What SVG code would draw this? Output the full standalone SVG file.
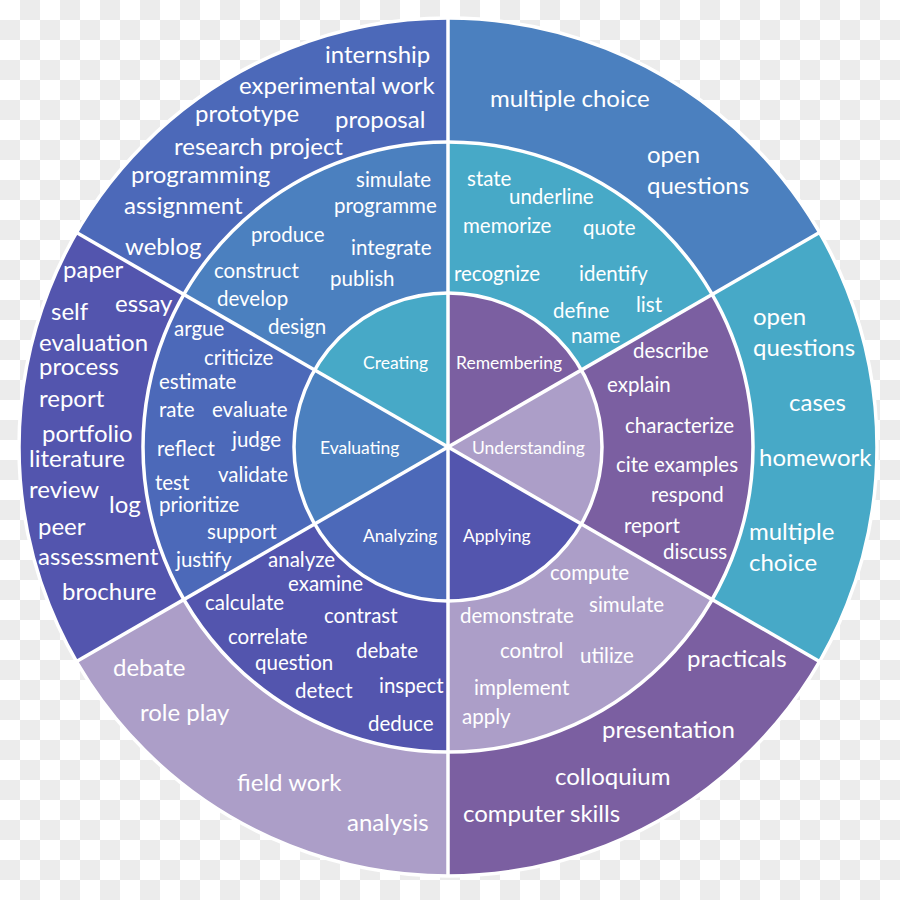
<svg xmlns="http://www.w3.org/2000/svg" width="900" height="900" viewBox="0 0 900 900">
<defs>
<pattern id="chk" x="0" y="0" width="40" height="40" patternUnits="userSpaceOnUse">
<rect x="0" y="0" width="40" height="40" fill="#ffffff"/>
<rect x="20" y="0" width="20" height="20" fill="#ececec"/>
<rect x="0" y="20" width="20" height="20" fill="#ececec"/>
</pattern>
<style>
text{fill:#ffffff;font-family:Lato,"Open Sans","Noto Sans",sans-serif}
.o{font-size:24px}
.m{font-size:20.5px}
.i{font-size:17.5px}
.teal{fill:#47a9c7}
.blue1{fill:#4b80bf}
.blue2{fill:#4c69b9}
.indigo{fill:#5355ae}
.lav{fill:#ac9ec8}
.purple{fill:#7b5fa1}
.div{stroke:#ffffff;stroke-width:3.5;fill:none}
</style>
</defs>
<rect width="900" height="900" fill="url(#chk)"/>

<!-- Outer ring -->
<g id="outer-creating">
<path class="blue2" d="M448 447 L448 18 A429 429 0 0 0 76.5 232.5 Z"/>
<text class="o" x="325" y="63">internship</text>
<text class="o" x="239" y="94">experimental work</text>
<text class="o" x="195" y="122">prototype</text>
<text class="o" x="335" y="128">proposal</text>
<text class="o" x="174" y="155">research project</text>
<text class="o" x="131" y="183">programming</text>
<text class="o" x="124" y="214">assignment</text>
<text class="o" x="125" y="255">weblog</text>
</g>
<g id="outer-remembering">
<path class="blue1" d="M448 447 L819.5 232.5 A429 429 0 0 0 448 18 Z"/>
<text class="o" x="490" y="107">multiple choice</text>
<text class="o" x="647" y="163">open</text>
<text class="o" x="647" y="194">questions</text>
</g>
<g id="outer-understanding">
<path class="teal" d="M448 447 L819.5 661.5 A429 429 0 0 0 819.5 232.5 Z"/>
<text class="o" x="753" y="325">open</text>
<text class="o" x="753" y="356">questions</text>
<text class="o" x="789" y="411">cases</text>
<text class="o" x="759" y="466">homework</text>
<text class="o" x="749" y="540">multiple</text>
<text class="o" x="749" y="571">choice</text>
</g>
<g id="outer-applying">
<path class="purple" d="M448 447 L448 876 A429 429 0 0 0 819.5 661.5 Z"/>
<text class="o" x="687" y="667">practicals</text>
<text class="o" x="602" y="738">presentation</text>
<text class="o" x="555" y="785">colloquium</text>
<text class="o" x="463" y="822">computer skills</text>
</g>
<g id="outer-analyzing">
<path class="lav" d="M448 447 L76.5 661.5 A429 429 0 0 0 448 876 Z"/>
<text class="o" x="113" y="676">debate</text>
<text class="o" x="140" y="721">role play</text>
<text class="o" x="237" y="791">field work</text>
<text class="o" x="347" y="831">analysis</text>
</g>
<g id="outer-evaluating">
<path class="indigo" d="M448 447 L76.5 232.5 A429 429 0 0 0 76.5 661.5 Z"/>
<text class="o" x="63" y="278">paper</text>
<text class="o" x="51" y="320">self</text>
<text class="o" x="115" y="312">essay</text>
<text class="o" x="39" y="351">evaluation</text>
<text class="o" x="39" y="375">process</text>
<text class="o" x="39" y="407">report</text>
<text class="o" x="42" y="442">portfolio</text>
<text class="o" x="29" y="467">literature</text>
<text class="o" x="29" y="498">review</text>
<text class="o" x="109" y="513">log</text>
<text class="o" x="38" y="535">peer</text>
<text class="o" x="38" y="565">assessment</text>
<text class="o" x="62" y="600">brochure</text>
</g>

<!-- Middle ring -->
<g id="middle-creating">
<path class="blue1" d="M448 447 L448 142 A305 305 0 0 0 183.9 294.5 Z"/>
<text class="m" x="356" y="187">simulate</text>
<text class="m" x="334" y="213">programme</text>
<text class="m" x="251" y="242">produce</text>
<text class="m" x="351" y="255">integrate</text>
<text class="m" x="214" y="278">construct</text>
<text class="m" x="330" y="286">publish</text>
<text class="m" x="217" y="306">develop</text>
<text class="m" x="268" y="334">design</text>
</g>
<g id="middle-remembering">
<path class="teal" d="M448 447 L712.1 294.5 A305 305 0 0 0 448 142 Z"/>
<text class="m" x="467" y="186">state</text>
<text class="m" x="509" y="204">underline</text>
<text class="m" x="463" y="233">memorize</text>
<text class="m" x="583" y="235">quote</text>
<text class="m" x="454" y="281">recognize</text>
<text class="m" x="579" y="281">identify</text>
<text class="m" x="636" y="312">list</text>
<text class="m" x="553" y="318">define</text>
<text class="m" x="571" y="343">name</text>
</g>
<g id="middle-understanding">
<path class="purple" d="M448 447 L712.1 599.5 A305 305 0 0 0 712.1 294.5 Z"/>
<text class="m" x="633" y="358">describe</text>
<text class="m" x="607" y="392">explain</text>
<text class="m" x="625" y="433">characterize</text>
<text class="m" x="616" y="472">cite examples</text>
<text class="m" x="651" y="502">respond</text>
<text class="m" x="624" y="533">report</text>
<text class="m" x="663" y="559">discuss</text>
</g>
<g id="middle-applying">
<path class="lav" d="M448 447 L448 752 A305 305 0 0 0 712.1 599.5 Z"/>
<text class="m" x="550" y="580">compute</text>
<text class="m" x="589" y="612">simulate</text>
<text class="m" x="460" y="623">demonstrate</text>
<text class="m" x="500" y="658">control</text>
<text class="m" x="580" y="663">utilize</text>
<text class="m" x="474" y="695">implement</text>
<text class="m" x="462" y="724">apply</text>
</g>
<g id="middle-analyzing">
<path class="indigo" d="M448 447 L183.9 599.5 A305 305 0 0 0 448 752 Z"/>
<text class="m" x="268" y="567">analyze</text>
<text class="m" x="288" y="591">examine</text>
<text class="m" x="205" y="610">calculate</text>
<text class="m" x="324" y="623">contrast</text>
<text class="m" x="228" y="644">correlate</text>
<text class="m" x="356" y="658">debate</text>
<text class="m" x="255" y="670">question</text>
<text class="m" x="379" y="693">inspect</text>
<text class="m" x="295" y="698">detect</text>
<text class="m" x="368" y="731">deduce</text>
</g>
<g id="middle-evaluating">
<path class="blue2" d="M448 447 L183.9 294.5 A305 305 0 0 0 183.9 599.5 Z"/>
<text class="m" x="174" y="336">argue</text>
<text class="m" x="204" y="365">criticize</text>
<text class="m" x="159" y="389">estimate</text>
<text class="m" x="159" y="417">rate</text>
<text class="m" x="212" y="417">evaluate</text>
<text class="m" x="232" y="447">judge</text>
<text class="m" x="157" y="456">reflect</text>
<text class="m" x="218" y="482">validate</text>
<text class="m" x="155" y="490">test</text>
<text class="m" x="159" y="512">prioritize</text>
<text class="m" x="207" y="539">support</text>
<text class="m" x="176" y="567">justify</text>
</g>

<!-- Inner ring -->
<g id="creating">
<path class="teal" d="M448 447 L448 293 A154 154 0 0 0 314.6 370 Z"/>
<text class="i" x="363" y="369">Creating</text>
</g>
<g id="remembering">
<path class="purple" d="M448 447 L581.4 370 A154 154 0 0 0 448 293 Z"/>
<text class="i" x="456" y="369">Remembering</text>
</g>
<g id="understanding">
<path class="lav" d="M448 447 L581.4 524 A154 154 0 0 0 581.4 370 Z"/>
<text class="i" x="472" y="454">Understanding</text>
</g>
<g id="applying">
<path class="indigo" d="M448 447 L448 601 A154 154 0 0 0 581.4 524 Z"/>
<text class="i" x="463" y="542">Applying</text>
</g>
<g id="analyzing">
<path class="blue2" d="M448 447 L314.6 524 A154 154 0 0 0 448 601 Z"/>
<text class="i" x="363" y="542">Analyzing</text>
</g>
<g id="evaluating">
<path class="blue1" d="M448 447 L314.6 370 A154 154 0 0 0 314.6 524 Z"/>
<text class="i" x="320" y="454">Evaluating</text>
</g>

<!-- Dividers -->
<g id="connectors">
<line class="div" x1="448" y1="18" x2="448" y2="876"/>
<line class="div" x1="76.5" y1="232.5" x2="819.5" y2="661.5"/>
<line class="div" x1="76.5" y1="661.5" x2="819.5" y2="232.5"/>
<circle class="div" cx="448" cy="447" r="154"/>
<circle class="div" cx="448" cy="447" r="305"/>
<circle class="div" cx="448" cy="447" r="429"/>
</g>
</svg>
